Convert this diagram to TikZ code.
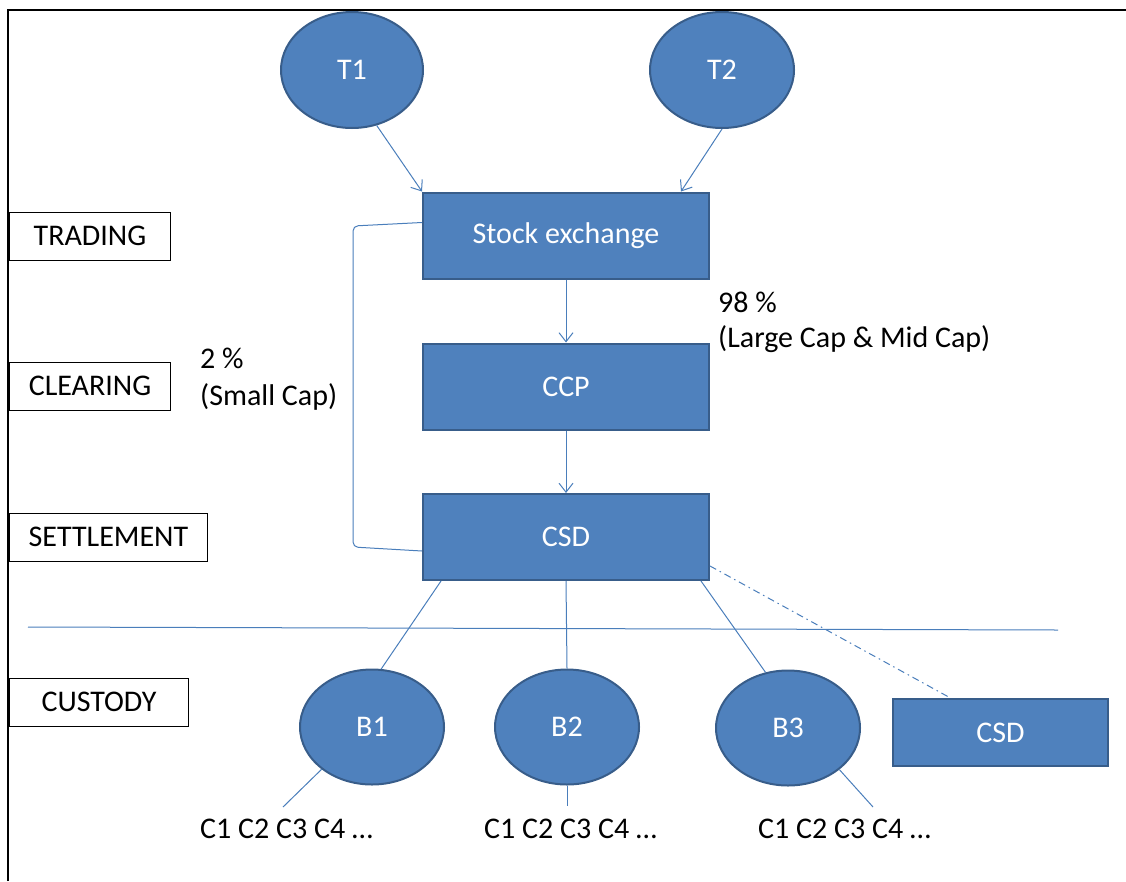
\documentclass[tikz,border=0pt]{standalone}
\usepackage{fontspec}
\setmainfont{Carlito}
\usetikzlibrary{shapes.geometric,arrows.meta}
\definecolor{boxblue}{HTML}{4F81BD}
\definecolor{boxedge}{HTML}{385D8A}
\definecolor{linkblue}{HTML}{4A7EBB}

\tikzset{
  blk/.style={rectangle, fill=boxblue, draw=boxedge, line width=2pt, text=white,
    minimum width=286, minimum height=86},
  ell/.style={ellipse, fill=boxblue, draw=boxedge, line width=2pt, text=white,
    inner sep=0pt, minimum width=144, minimum height=116},
  lbl/.style={rectangle, draw=black, line width=1pt, minimum height=48, anchor=west},
  txt/.style={inner sep=0pt, anchor=base west},
  link/.style={draw=linkblue, line width=1pt},
}

\begin{document}
\begin{tikzpicture}[x=1pt,y=-1pt,font=\fontsize{30}{36}\selectfont,
  >={Straight Barb[length=9pt,width=14pt]}]
\useasboundingbox (0,0) rectangle (1126,881);
% frame
\draw[line width=2pt] (8,881) -- (8,9.5) -- (1126,9.5);

%% traders
\node[ell, minimum width=142] (t1) at (352,70) {T1};
\node[ell] (t2) at (722,70) {T2};

%% chain
\node[blk] (se) at (566,235.5) {Stock exchange};
\node[blk] (ccp) at (566,386.5) {CCP};
\node[blk] (csd) at (566,537) {CSD};

%% banks
\node[ell, minimum height=115] (b1) at (372,727) {B1};
\node[ell, minimum height=115] (b2) at (567,727) {B2};
\node[ell, minimum height=115] (b3) at (788,728) {B3};
\node[blk, minimum width=215, minimum height=67] (csdb) at (1000.5,732.5) {CSD};

%% stages
\node[lbl, minimum width=161] (trading) at (9,236) {TRADING};
\node[lbl, minimum width=161] (clearing) at (9,386) {CLEARING};
\node[lbl, minimum width=198] (settlement) at (9,537) {SETTLEMENT};
\node[lbl, minimum width=179] (custody) at (9,702) {CUSTODY};

% shares
\node[txt] (pbig) at (718,312) {98 \%};
\node[txt] (capbig) at (718,347) {(Large Cap \& Mid Cap)};
\node[txt] (psmall) at (200,368) {2 \%};
\node[txt] (capsmall) at (200,405) {(Small Cap)};

% clients
\node[txt] (c1) at (200,838) {C1 C2 C3 C4 …};
\node[txt] (c2) at (484,838) {C1 C2 C3 C4 …};
\node[txt] (c3) at (758,838) {C1 C2 C3 C4 …};
\coordinate (e1) at (283,807);
\coordinate (e2) at (567,806);
\coordinate (e3) at (873,807);

%% links
\draw[link,->] (t1.-66) -- (se.north west);
\draw[link,->] (t2.south) -- ([xshift=-29pt]se.north east);
\draw[link,->] (se) -- (ccp);
\draw[link,->] (ccp) -- (csd);
\draw[link, rounded corners=5pt] ([yshift=13pt]se.west) -- (353,226) -- (353,547)
  -- ([yshift=-14pt]csd.west);
\draw[link] (28,627) -- (1058,630);
\draw[link] ([xshift=19pt]csd.south west) -- (b1.81);
\draw[link] (csd.south) -- (b2.north);
\draw[link] ([xshift=-9pt]csd.south east) -- (b3.112);
\draw[link, dash pattern=on 7pt off 4pt on 1.5pt off 4pt]
  ([yshift=15pt]csd.south east) -- ([xshift=-50pt]csdb.north);
\draw[link] (b1.-140) -- (e1);
\draw[link] (b2.south) -- (e2);
\draw[link] (b3.-39) -- (e3);
\end{tikzpicture}
\end{document}
